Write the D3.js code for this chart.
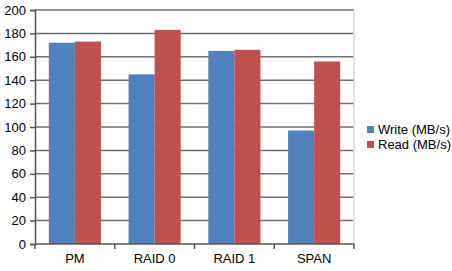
<!DOCTYPE html>
<html><head><meta charset="utf-8">
<script src="https://cdn.jsdelivr.net/npm/d3@7/dist/d3.min.js"></script>
<style>body{margin:0;background:#fff}svg{display:block}text{font-family:"Liberation Sans",Arial,sans-serif;font-size:13px;fill:#000}</style>
</head><body>
<script>
const categories = ["PM", "RAID 0", "RAID 1", "SPAN"];
const seriesNames = ["Write (MB/s)", "Read (MB/s)"];
const writeValues = [172, 145, 165, 97];
const readValues = [173, 183, 166, 156];
const yTicks = [0, 20, 40, 60, 80, 100, 120, 140, 160, 180, 200];
const colors = ["#4F81BD", "#C0504D"];

const W = 452, H = 271;
const m = {left: 35, right: 98, top: 10, bottom: 27};
const svg = d3.select("body").append("svg").attr("width", W).attr("height", H);

const x = d3.scaleBand().domain(categories).range([m.left, W - m.right]).paddingInner(0).paddingOuter(0);
const x1 = d3.scaleBand().domain(seriesNames).range([0, x.bandwidth()]).paddingInner(0).paddingOuter(0.53);
const y = d3.scaleLinear().domain([0, 200]).range([H - m.bottom, m.top]);

// gridlines
svg.append("g").selectAll("line").data(yTicks.filter(d => d > 0)).join("line")
  .attr("x1", m.left).attr("x2", W - m.right)
  .attr("y1", d => y(d)).attr("y2", d => y(d))
  .attr("stroke", "#6f6f6f").attr("stroke-width", 1.5);

// right border
svg.append("line").attr("x1", W - m.right).attr("x2", W - m.right)
  .attr("y1", m.top).attr("y2", H - m.bottom).attr("stroke", "#d9d9d9").attr("stroke-width", 1.5);

// bars
const data = categories.map((c, i) => ({c, vals: [writeValues[i], readValues[i]]}));
const g = svg.append("g").selectAll("g").data(data).join("g")
  .attr("transform", d => `translate(${x(d.c)},0)`);
g.selectAll("rect").data(d => d.vals.map((v, j) => ({v, s: seriesNames[j], j}))).join("rect")
  .attr("x", d => x1(d.s)).attr("width", x1.bandwidth())
  .attr("y", d => y(d.v)).attr("height", d => y(0) - y(d.v))
  .attr("fill", d => colors[d.j]);

// y axis
const ya = d3.axisLeft(y).tickValues(yTicks).tickSize(5).tickPadding(4);
const yg = svg.append("g").attr("transform", `translate(${m.left},0)`).call(ya);
yg.select(".domain").attr("stroke", "#555").attr("stroke-width", 1.5);
yg.selectAll(".tick line").attr("stroke", "#555").attr("stroke-width", 1.5);
yg.selectAll("text").attr("font-size", 13).attr("fill", "#000").attr("font-family", "Liberation Sans, Arial, sans-serif");

// x axis
const xg = svg.append("g").attr("transform", `translate(0,${H - m.bottom})`);
xg.append("line").attr("x1", m.left).attr("x2", W - m.right).attr("y1", 0).attr("y2", 0)
  .attr("stroke", "#555").attr("stroke-width", 1.5);
const bounds = categories.map(c => x(c)).concat([x(categories[categories.length - 1]) + x.bandwidth()]);
xg.selectAll("line.t").data(bounds).join("line").attr("class", "t")
  .attr("x1", d => d).attr("x2", d => d).attr("y1", 0).attr("y2", 5)
  .attr("stroke", "#555").attr("stroke-width", 1.5);
xg.selectAll("text").data(categories).join("text")
  .attr("x", d => x(d) + x.bandwidth() / 2).attr("y", 19)
  .attr("text-anchor", "middle").text(d => d);

// legend
const lg = svg.append("g").attr("transform", "translate(367,126)");
const li = lg.selectAll("g").data(seriesNames).join("g").attr("transform", (d, i) => `translate(0,${i * 15})`);
li.append("rect").attr("width", 7).attr("height", 7).attr("fill", (d, i) => colors[i]);
li.append("text").attr("x", 11).attr("y", 7.5).text(d => d);
</script>
</body></html>
